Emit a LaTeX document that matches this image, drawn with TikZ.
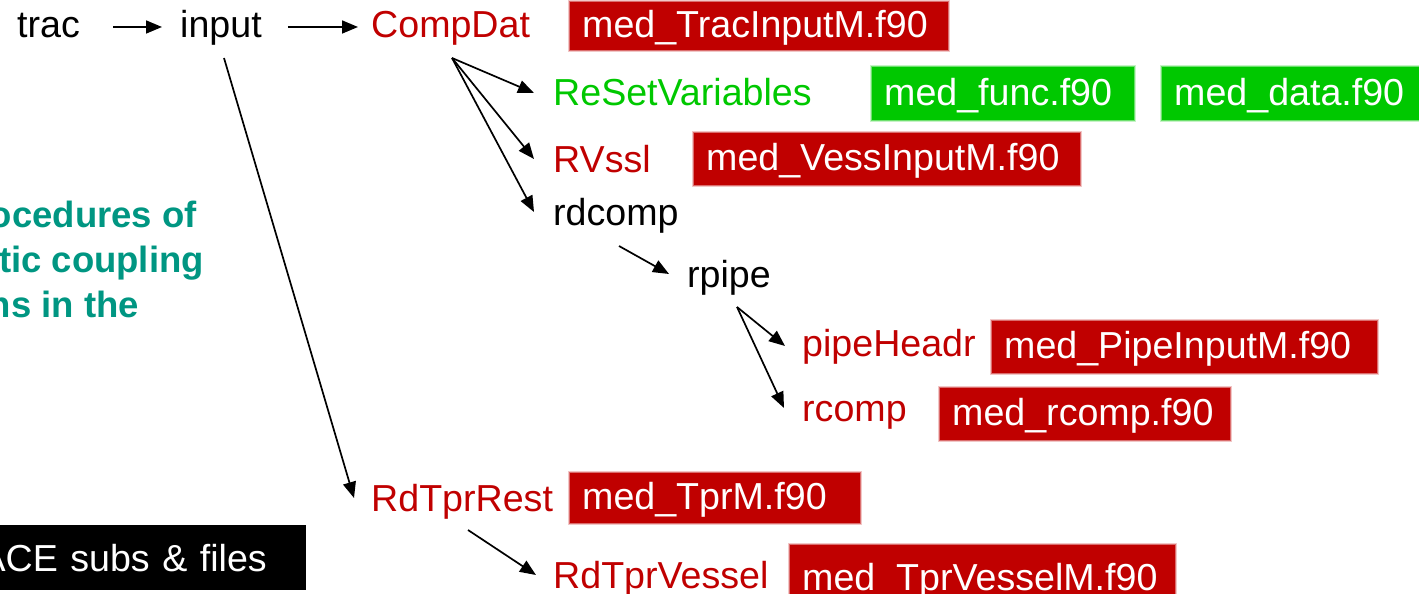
\documentclass[tikz,border=0pt]{standalone}
\usepackage{fontspec}
\setmainfont{Liberation Sans}
\usetikzlibrary{arrows.meta}

\definecolor{fred}{RGB}{192,0,0}
\definecolor{fgreen}{RGB}{0,200,0}
\definecolor{noteteal}{RGB}{0,150,130}

\tikzset{
  lbl/.style={inner sep=0pt, anchor=base west, font=\fontsize{37.6}{44}\selectfont},
  redlbl/.style={lbl, text=fred},
  greenlbl/.style={lbl, text=fgreen},
  note/.style={inner sep=0pt, anchor=base east, text=noteteal,
               font=\fontsize{36.5}{44}\selectfont\bfseries},
  filebox/.style={anchor=north west, inner xsep=12pt, inner ysep=0pt,
                  align=left, text=white, text height=28pt, text depth=5pt,
                  font=\fontsize{37.6}{44}\selectfont,
                  preaction={draw=#1, line width=4.5pt, draw opacity=0.22},
                  preaction={draw=#1, line width=2pt, draw opacity=0.45},
                  fill=#1},
  arr/.style={line width=1.7pt, -{Triangle[length=16pt,width=13pt]}}
}

\begin{document}
\begin{tikzpicture}[x=1pt,y=1pt]
\useasboundingbox (0,0) rectangle (1419,594);

% call tree labels
\node[lbl]         (trac)        at (17,556)  {trac};
\node[lbl]         (input)       at (180,556) {input};
\node[redlbl]      (compdat)     at (371,556) {CompDat};
\node[greenlbl]    (resetvars)   at (553,488) {ReSetVariables};
\node[redlbl]      (rvssl)       at (553,421) {RVssl};
\node[lbl]         (rdcomp)      at (553,368) {rdcomp};
\node[lbl]         (rpipe)       at (687,306) {rpipe};
\node[redlbl]      (pipeheadr)   at (802,237) {pipeHeadr};
\node[redlbl]      (rcomp)       at (802,172) {rcomp};
\node[redlbl]      (rdtprrest)   at (371,82)  {RdTprRest};
\node[redlbl]      (rdtprvessel) at (553,5)   {RdTprVessel};

% source files
\node[filebox=fred,   text width=354pt, minimum height=48pt] (ftrac)  at (570,592)  {med\_TracInputM.f90};
\node[filebox=fgreen, text width=238pt, minimum height=53pt] (ffunc)  at (872,527)  {med\_func.f90};
\node[filebox=fgreen, text width=240pt, minimum height=53pt] (fdata)  at (1162,527) {med\_data.f90};
\node[filebox=fred,   text width=362pt, minimum height=52pt] (fvess)  at (694,461)  {med\_VessInputM.f90};
\node[filebox=fred,   text width=361pt, minimum height=52pt] (fpipe)  at (992,273)  {med\_PipeInputM.f90};
\node[filebox=fred,   text width=266pt, minimum height=52pt] (frcomp) at (940,206)  {med\_rcomp.f90};
\node[filebox=fred,   text width=266pt, minimum height=50pt] (ftprm)  at (570,121)  {med\_TprM.f90};
\node[filebox=fred,   text width=361pt, minimum height=68pt] (ftprv)  at (790,49)   {med\_TprVesselM.f90};

% side notes
\node[note] (note1) at (197,366) {ocedures of};
\node[note] (note2) at (204,321) {tic coupling};
\node[note] (note3) at (139,276) {ns in the};

\node[anchor=north east, fill=black, text=white, inner xsep=39pt, inner ysep=0pt,
      text width=300pt, align=right, minimum height=65pt,
      text height=30pt, text depth=3pt, font=\fontsize{37.6}{44}\selectfont]
      (tracebox) at (306,69) {ACE subs \& files};

% calls
\draw[arr] ([shift={(33,11)}]trac.base east)   -- ([shift={(-18,11)}]input.base west);
\draw[arr] ([shift={(26,11)}]input.base east)  -- ([shift={(-13,11)}]compdat.base west);
\draw[arr] ([shift={(81,-20)}]compdat.base west) -- ([shift={(-19,13)}]resetvars.base west);
\draw[arr] ([shift={(81,-20)}]compdat.base west) -- ([shift={(-19,14)}]rvssl.base west);
\draw[arr] ([shift={(81,-20)}]compdat.base west) -- ([shift={(-19,14)}]rdcomp.base west);
\draw[arr] ([shift={(44,-20)}]input.base west) -- ([shift={(-17,14)}]rdtprrest.base west);
\draw[arr] ([shift={(66,-20)}]rdcomp.base west) -- ([shift={(-18,14)}]rpipe.base west);
\draw[arr] ([shift={(50,-19)}]rpipe.base west) -- ([shift={(-17,11)}]pipeheadr.base west);
\draw[arr] ([shift={(50,-19)}]rpipe.base west) -- ([shift={(-18,14)}]rcomp.base west);
\draw[arr] ([shift={(97,-18)}]rdtprrest.base west) -- ([shift={(-17,14)}]rdtprvessel.base west);
\end{tikzpicture}
\end{document}
